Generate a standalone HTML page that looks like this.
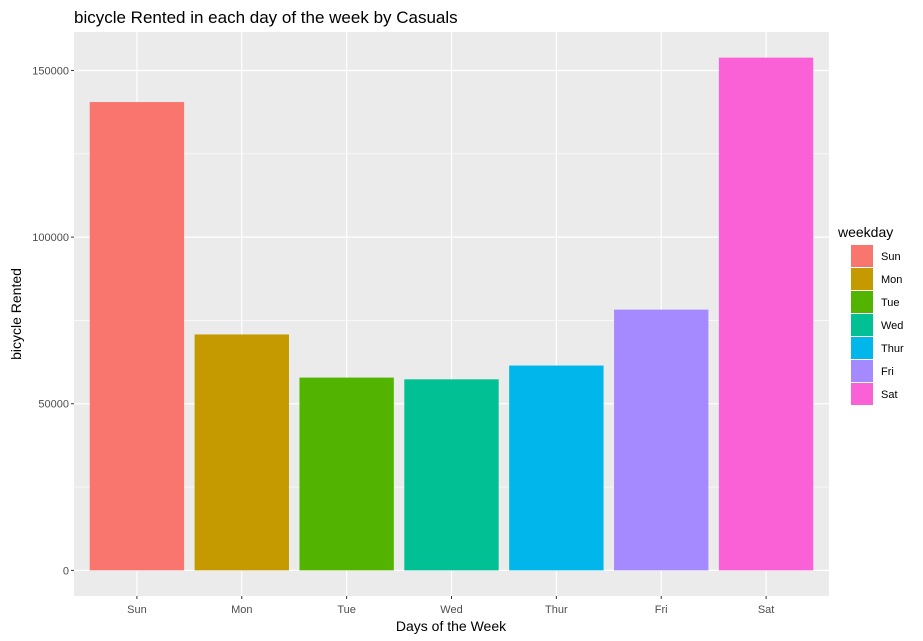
<!DOCTYPE html>
<html><head><meta charset="utf-8">
<style>
body{margin:0;background:#fff;}
svg{display:block;font-family:"Liberation Sans",Arial,sans-serif;}
</style></head>
<body>
<svg id="chart" width="923" height="641" viewBox="0 0 923 641">
<rect width="923" height="641" fill="#fff"/>
<text x="74" y="23" font-size="17" fill="#000">bicycle Rented in each day of the week by Casuals</text>
<rect x="74" y="32" width="755" height="564" fill="#EBEBEB"/>
<g id="grid"></g>
<g id="bars"></g>
<g id="axes"></g>
<text x="451" y="631" font-size="14" text-anchor="middle" fill="#000">Days of the Week</text>
<text transform="translate(21,314) rotate(-90)" font-size="14" text-anchor="middle" fill="#000">bicycle Rented</text>
<text x="838" y="237" font-size="14" fill="#000">weekday</text>
<g id="legend"></g>
</svg>
<script>
const categories = ["Sun","Mon","Tue","Wed","Thur","Fri","Sat"];
const values = [140521,70784,57843,57319,61460,78238,153852];
const colors = ["#F8766D","#C49A00","#53B400","#00C094","#00B6EB","#A58AFF","#FB61D7"];
const yTicks = [0,50000,100000,150000];
const yTickLabels = ["0","50000","100000","150000"];
const yMinor = [25000,75000,125000];

const NS="http://www.w3.org/2000/svg";
const px0=74, px1=829, py0=596, py1=32;
const maxV=Math.max(...values), pad=maxV*0.05;
const y=v=>py0-(v+pad)/(maxV+2*pad)*(py0-py1);
const step=(px1-px0)/(categories.length+0.2);
const xc=i=>px0+step*(i+0.6);
function mk(tag,attrs,parent){const e=document.createElementNS(NS,tag);for(const k in attrs)e.setAttribute(k,attrs[k]);parent.appendChild(e);return e;}
const grid=document.getElementById('grid'),bars=document.getElementById('bars'),axes=document.getElementById('axes'),legend=document.getElementById('legend');
yMinor.forEach(v=>{const l=mk('line',{x1:px0,x2:px1,y1:y(v),y2:y(v),stroke:'#fff','stroke-width':0.6},grid);

});
yTicks.forEach((v,i)=>{const l=mk('line',{x1:px0,x2:px1,y1:y(v),y2:y(v),stroke:'#fff','stroke-width':1.2},grid);


const t=mk('line',{x1:px0-3,x2:px0,y1:y(v),y2:y(v),stroke:'#333','stroke-width':1},axes);


const tx=mk('text',{x:px0-5,y:y(v)+4,'font-size':11,'text-anchor':'end',fill:'#4D4D4D'},axes);tx.textContent=yTickLabels[i];

});
categories.forEach((c,i)=>{const l=mk('line',{x1:xc(i),x2:xc(i),y1:py1,y2:py0,stroke:'#fff','stroke-width':1.2},grid);


const w=step*0.9;
const b=mk('rect',{x:xc(i)-w/2,y:y(values[i]),width:w,height:y(0)-y(values[i]),fill:colors[i]},bars);


const t=mk('line',{x1:xc(i),x2:xc(i),y1:py0,y2:py0+3,stroke:'#333','stroke-width':1},axes);


const tx=mk('text',{x:xc(i),y:py0+17,'font-size':11,'text-anchor':'middle',fill:'#4D4D4D'},axes);tx.textContent=c;


const g=mk('g',{},legend);


const ly=245+i*23;
mk('rect',{x:851,y:ly,width:22,height:22,fill:colors[i]},g);
const lt=mk('text',{x:881,y:ly+15,'font-size':11,fill:'#000'},g);lt.textContent=c;});
</script>
</body></html>
